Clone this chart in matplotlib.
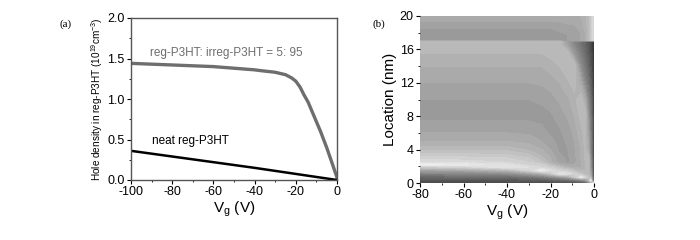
import numpy as np
import matplotlib
matplotlib.use('Agg')
import matplotlib.pyplot as plt
from matplotlib.ticker import MultipleLocator, FormatStrFormatter

plt.rcParams['font.family'] = ['Liberation Sans', 'DejaVu Sans']
plt.rcParams['axes.unicode_minus'] = False

# Panel (a): hole density vs gate voltage
vg_blend = [-100, -80, -60, -40, -37, -30, -25, -22, -20, -18, -16, -14, -12, -10, -8, -5, -2, 0]
n_blend = [1.44, 1.42, 1.40, 1.36, 1.35, 1.33, 1.30, 1.26, 1.22, 1.15, 1.05, 0.96, 0.84, 0.72, 0.60, 0.40, 0.18, 0.03]
vg_neat = [-100, -60, -40, 0]
n_neat = [0.36, 0.22, 0.15, 0.0]

# Panel (b): grey level map (0 = black, 1 = white)
vg_map = [-80, -60, -40, -30, -24, -20, -16, -12, -9, -6, -4, -2.5, -1.5, -0.7, 0]
loc_map = [0, 0.3, 0.7, 1.1, 1.5, 1.9, 2.2, 2.5, 3, 4, 5, 6, 8, 10, 12, 14, 15.5, 16.5, 16.9,
           17.1, 17.8, 18.5, 19.3, 20]
grey_map = [
    [0.28, 0.28, 0.28, 0.28, 0.28, 0.29, 0.29, 0.30, 0.31, 0.33, 0.36, 0.45, 0.60, 0.80, 0.85],
    [0.32, 0.32, 0.33, 0.34, 0.35, 0.36, 0.38, 0.40, 0.42, 0.47, 0.55, 0.69, 0.91, 0.55, 0.22],
    [0.40, 0.41, 0.42, 0.45, 0.48, 0.53, 0.57, 0.64, 0.76, 0.90, 0.82, 0.75, 0.70, 0.49, 0.20],
    [0.50, 0.51, 0.54, 0.61, 0.67, 0.76, 0.89, 0.87, 0.82, 0.76, 0.72, 0.73, 0.64, 0.45, 0.18],
    [0.62, 0.64, 0.70, 0.82, 0.93, 0.86, 0.82, 0.79, 0.74, 0.70, 0.71, 0.73, 0.61, 0.43, 0.18],
    [0.78, 0.81, 0.89, 0.86, 0.83, 0.80, 0.74, 0.69, 0.67, 0.68, 0.71, 0.73, 0.58, 0.42, 0.18],
    [0.93, 0.91, 0.87, 0.82, 0.80, 0.74, 0.68, 0.65, 0.65, 0.675, 0.71, 0.73, 0.58, 0.42, 0.18],
    [0.86, 0.85, 0.83, 0.80, 0.75, 0.69, 0.635, 0.615, 0.64, 0.675, 0.71, 0.73, 0.57, 0.42, 0.18],
    [0.81, 0.81, 0.80, 0.77, 0.72, 0.68, 0.63, 0.615, 0.64, 0.68, 0.715, 0.73, 0.54, 0.40, 0.18],
    [0.73, 0.73, 0.73, 0.705, 0.68, 0.65, 0.615, 0.62, 0.645, 0.68, 0.72, 0.66, 0.51, 0.38, 0.18],
    [0.68, 0.68, 0.68, 0.67, 0.65, 0.63, 0.61, 0.625, 0.65, 0.69, 0.72, 0.65, 0.50, 0.38, 0.18],
    [0.65, 0.65, 0.65, 0.645, 0.63, 0.615, 0.615, 0.63, 0.66, 0.70, 0.725, 0.62, 0.49, 0.37, 0.18],
    [0.61, 0.61, 0.61, 0.61, 0.61, 0.615, 0.63, 0.655, 0.68, 0.72, 0.74, 0.58, 0.46, 0.35, 0.18],
    [0.62, 0.62, 0.62, 0.62, 0.625, 0.635, 0.655, 0.675, 0.70, 0.74, 0.66, 0.52, 0.43, 0.33, 0.18],
    [0.65, 0.65, 0.65, 0.65, 0.655, 0.665, 0.68, 0.705, 0.725, 0.66, 0.53, 0.45, 0.37, 0.29, 0.18],
    [0.68, 0.68, 0.68, 0.68, 0.68, 0.695, 0.71, 0.73, 0.74, 0.55, 0.46, 0.39, 0.33, 0.26, 0.18],
    [0.71, 0.71, 0.71, 0.71, 0.71, 0.72, 0.725, 0.74, 0.59, 0.49, 0.42, 0.36, 0.30, 0.25, 0.18],
    [0.72, 0.72, 0.72, 0.72, 0.72, 0.73, 0.74, 0.63, 0.53, 0.45, 0.40, 0.34, 0.28, 0.23, 0.18],
    [0.73, 0.73, 0.73, 0.73, 0.73, 0.74, 0.74, 0.61, 0.52, 0.45, 0.39, 0.33, 0.28, 0.23, 0.18],
    [0.60, 0.60, 0.60, 0.60, 0.60, 0.60, 0.61, 0.62, 0.63, 0.65, 0.68, 0.72, 0.77, 0.82, 0.85],
    [0.60, 0.60, 0.60, 0.60, 0.60, 0.60, 0.61, 0.62, 0.63, 0.65, 0.68, 0.72, 0.77, 0.82, 0.85],
    [0.62, 0.62, 0.62, 0.62, 0.62, 0.62, 0.63, 0.63, 0.64, 0.66, 0.69, 0.72, 0.77, 0.82, 0.85],
    [0.65, 0.65, 0.65, 0.65, 0.65, 0.65, 0.65, 0.66, 0.66, 0.67, 0.70, 0.73, 0.77, 0.82, 0.85],
    [0.66, 0.66, 0.66, 0.66, 0.66, 0.66, 0.66, 0.67, 0.67, 0.68, 0.70, 0.73, 0.77, 0.82, 0.85],
]

fig = plt.figure(figsize=(7, 2.4), dpi=100)

# ---- panel (a)
ax1 = fig.add_axes([131 / 700, 1 - 180 / 240, 206 / 700, 162 / 240])
ax1.plot(vg_blend, n_blend, color='#6e6e6e', lw=2.4, solid_joinstyle='round')
ax1.plot(vg_neat, n_neat, color='black', lw=1.8)
ax1.set_xlim(-100, 0)
ax1.set_ylim(0, 2.0)
ax1.xaxis.set_major_locator(MultipleLocator(20))
ax1.xaxis.set_minor_locator(MultipleLocator(10))
ax1.yaxis.set_major_locator(MultipleLocator(0.5))
ax1.yaxis.set_minor_locator(MultipleLocator(0.25))
ax1.yaxis.set_major_formatter(FormatStrFormatter('%.1f'))
ax1.text(-91, 1.53, 'reg-P3HT: irreg-P3HT = 5: 95', color='#6e6e6e', fontsize=8.5)
ax1.text(-90, 0.44, 'neat reg-P3HT', color='black', fontsize=8.5)
ax1.set_xlabel('V$_\\mathregular{g}$ (V)', fontsize=11, labelpad=1)
ax1.set_ylabel('Hole density in reg-P3HT (10$^{\\mathregular{19}}$cm$^{\\mathregular{-3}}$)',
               fontsize=7.2, labelpad=2)
for sp in ax1.spines.values():
    sp.set_color('#555555')
    sp.set_linewidth(1.0)

# ---- panel (b)
ax2 = fig.add_axes([420 / 700, 1 - 183 / 240, 174 / 700, 167 / 240])
levels = np.arange(0.14, 0.97, 0.03)
grey = np.array(grey_map)
# drawn twice so the anti-aliased seams between bands are covered
for _ in range(2):
    ax2.contourf(vg_map, loc_map, grey, levels=levels, cmap='gray',
                 vmin=0, vmax=1, extend='both')
ax2.set_xlim(-80, 0)
ax2.set_ylim(0, 20)
ax2.xaxis.set_major_locator(MultipleLocator(20))
ax2.xaxis.set_minor_locator(MultipleLocator(10))
ax2.yaxis.set_major_locator(MultipleLocator(4))
ax2.yaxis.set_minor_locator(MultipleLocator(2))
ax2.set_xlabel('V$_\\mathregular{g}$ (V)', fontsize=11, labelpad=1)
ax2.set_ylabel('Location (nm)', fontsize=11, labelpad=2)
for sp in ax2.spines.values():
    sp.set_visible(False)

for ax in (ax1, ax2):
    ax.tick_params(which='major', direction='out', length=3, width=0.8, labelsize=9, pad=1.5)
    ax.tick_params(which='minor', direction='out', length=1.5, width=0.6)

fig.text(60 / 700, 1 - 27 / 240, '(a)', fontsize=8, family='Liberation Serif')
fig.text(373 / 700, 1 - 27 / 240, '(b)', fontsize=8, family='Liberation Serif')

fig.savefig('out.png', dpi=100)
